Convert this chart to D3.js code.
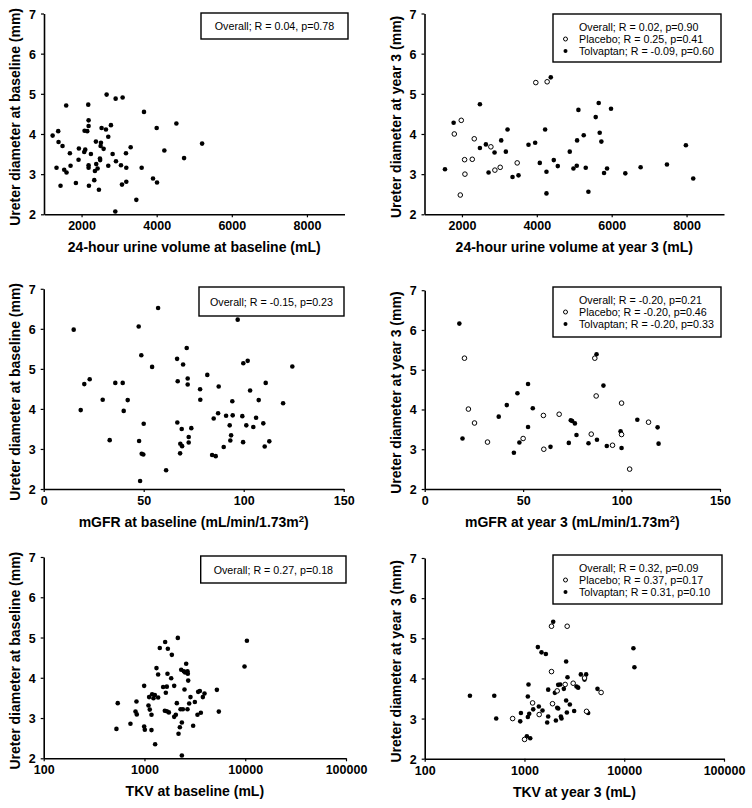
<!DOCTYPE html>
<html>
<head>
<meta charset="utf-8">
<script src="https://d3js.org/d3.v7.min.js"></script>
<style>
  html, body { margin: 0; padding: 0; background: #fff; }
  svg { display: block; }
  text { font-family: "Liberation Sans", Arial, sans-serif; fill: #000; }
</style>
</head>
<body>
<svg id="chart" width="752" height="808"></svg>
<script>
// ---------------- DATA ----------------
// Panel 1: 24-hour urine volume at baseline (mL) vs ureter diameter at baseline (mm)
const urineBaseline = [
  [1230,3.96],[1378,4.07],[1387,3.80],[1493,3.70],[1333,3.16],[1440,2.71],[1538,3.11],[1591,4.71],
  [1600,3.04],[1689,3.52],[1707,3.21],[1849,2.78],[1929,3.64],[1920,3.36],[2071,3.55],[2080,4.08],
  [2098,3.61],[2151,4.07],[2178,4.73],[2187,4.34],[2187,4.20],[2187,3.22],[2187,3.16],[2196,2.71],
  [2249,3.50],[2338,2.85],[2382,3.81],[2391,3.25],[2356,3.08],[2427,3.14],[2462,2.61],[2489,3.39],
  [2495,3.35],[2507,3.70],[2516,3.78],[2533,4.15],[2587,3.63],[2649,4.11],[2667,4.98],[2711,3.93],
  [2711,3.21],[2782,4.22],[2827,3.50],[2907,4.88],[2916,3.32],[2898,2.07],[3049,3.22],[3093,4.91],
  [3076,2.74],[3182,3.52],[3191,3.16],[3191,2.81],[3307,3.67],[3458,2.36],[3600,3.16],[3662,4.55],
  [3902,2.89],[4000,4.15],[4009,2.79],[4204,3.59],[4524,4.26],[4729,3.40],[5209,3.76]
];
// Panel 2: 24-hour urine volume at year 3
const urineY3Placebo = [
  [1982,4.34],[1796,4.00],[2329,3.88],[2071,3.36],[2276,3.37],[2080,3.00],[1956,2.48],[2773,3.68],
  [2880,3.10],[3022,3.17],[3476,3.28],[3973,5.28],[4276,5.30]
];
const urineY3Tolvaptan = [
  [1547,3.12],[1778,4.28],[2480,4.74],[2480,3.65],[2640,3.74],[2711,3.04],[2871,3.54],[3049,3.84],
  [3173,3.56],[3218,4.11],[3351,2.93],[3511,2.97],[3778,3.73],[3956,3.78],[4080,3.28],[4222,4.11],
  [4258,3.06],[4258,2.52],[4373,5.41],[4453,3.35],[4560,3.20],[4880,3.56],[4978,3.14],[5067,3.21],
  [5076,3.84],[5111,4.60],[5253,3.97],[5307,3.16],[5378,2.56],[5573,4.42],[5653,4.77],[5680,4.03],
  [5724,3.81],[5796,3.03],[5876,3.14],[5982,4.63],[6364,3.02],[6773,3.17],[7476,3.24],[7982,3.72],
  [8178,2.89]
];
// Panel 3: mGFR at baseline
const gfrBaseline = [
  [15,5.98],[18.5,3.97],[20.3,4.62],[23,4.74],[29.5,4.23],[33,3.22],[35.8,4.65],[39.5,4.65],
  [40,3.95],[42,4.22],[47.5,6.06],[47.7,3.20],[48.2,2.20],[48.8,5.34],[49,2.88],[49.8,2.86],
  [50,3.63],[54.2,5.05],[57.2,6.52],[61.2,2.47],[66.7,5.25],[66.8,3.66],[67,4.69],[68.2,2.89],
  [68.3,3.13],[69,3.50],[69.2,3.07],[69.7,5.11],[71.5,5.52],[72,4.76],[72,4.61],[72.5,3.30],
  [72.5,3.16],[73.8,3.52],[78.2,4.49],[78.3,4.23],[81.8,4.85],[84.2,2.85],[85,3.76],[86,2.82],
  [87.2,3.89],[87.5,4.56],[90,3.05],[91.2,3.83],[93,3.59],[93.3,3.21],[93.7,3.34],[94.3,4.19],
  [94.5,3.84],[97,6.23],[99.3,3.82],[99.7,3.17],[99.8,5.14],[101.3,3.59],[102,5.20],[103.2,4.46],
  [104.8,3.55],[106.2,3.78],[107.5,4.22],[109.8,3.64],[110.5,3.06],[111,4.65],[112.8,3.19],
  [119.7,4.14],[124.3,5.06]
];
// Panel 4: mGFR at year 3
const gfrY3Placebo = [
  [20.2,5.29],[22.2,4.01],[25.3,3.66],[31.9,3.18],[50,3.27],[60.3,3.85],[60.5,3.00],[68.3,3.88],
  [84.6,3.38],[86.4,5.29],[87.1,4.34],[95.4,3.10],[100,4.16],[100,3.37],[104.1,2.50],[113.7,3.68]
];
const gfrY3Tolvaptan = [
  [17.6,6.16],[19.2,3.27],[37.6,3.82],[41.7,4.11],[45.3,2.91],[47.1,4.41],[48.1,3.17],[52.5,4.64],
  [52.5,3.56],[54.9,4.03],[63.9,3.06],[73.2,3.16],[74.2,3.73],[74.9,3.71],[76.3,3.65],[77.1,3.36],
  [83.2,3.15],[87.3,5.39],[87.5,3.24],[90.8,4.60],[92.5,3.08],[99.5,3.45],[100,3.03],[108,3.74],
  [118.3,3.55],[118.8,3.14]
];
// Panel 5: TKV at baseline
const tkvBaseline = [
  [527,2.73],[543,3.37],[726,2.86],[833,3.41],[815,3.16],[839,3.09],[993,3.80],[993,2.79],
  [1008,2.71],[1096,3.31],[1112,3.52],[1129,3.21],[1174,3.08],[1174,2.70],[1191,3.59],[1228,3.49],
  [1267,3.57],[1316,4.24],[1367,4.08],[1367,3.51],[1276,2.35],[1419,4.74],[1532,3.77],[1592,3.18],
  [1604,4.89],[1629,3.63],[1667,3.17],[1667,3.78],[1692,4.10],[1706,4.72],[1746,3.14],[1842,3.99],
  [1869,4.57],[1972,3.80],[1972,3.03],[2048,3.08],[2095,3.37],[2143,4.99],[2177,2.61],[2245,2.77],
  [2281,3.22],[2315,4.20],[2350,2.89],[2350,2.07],[2404,3.22],[2460,4.16],[2496,3.71],[2535,4.13],
  [2594,4.35],[2673,4.16],[2673,3.22],[2693,4.10],[2716,3.93],[2778,3.36],[2863,3.52],[3042,2.81],
  [3162,3.40],[3358,3.08],[3411,3.65],[3545,3.67],[3627,3.13],[3796,3.52],[3943,3.61],[5231,3.70],
  [5470,3.16],[9840,4.28],[10390,4.92]
];
// Panel 6: TKV at year 3
const tkvY3Placebo = [
  [761,3.00],[1002,2.48],[1206,3.39],[1405,3.10],[1866,5.30],[1866,4.17],[1910,3.37],[2129,3.69],
  [2558,3.85],[2680,5.30],[3078,3.88],[3999,4.01],[4188,3.18],[5865,3.65]
];
const tkvY3Tolvaptan = [
  [284,3.57],[498,3.57],[521,3.00],[907,2.93],[921,3.14],[1057,2.56],[1081,3.04],[1081,3.55],
  [1098,3.85],[1116,3.12],[1142,2.51],[1224,3.23],[1362,4.78],[1393,3.30],[1482,4.65],[1516,3.20],
  [1639,4.61],[1690,2.90],[1729,3.72],[1729,3.05],[1941,5.41],[2017,3.64],[2064,2.95],[2129,3.27],
  [2178,3.25],[2178,3.84],[2281,3.85],[2317,3.05],[2350,3.00],[2481,3.74],[2617,4.42],[2617,3.45],
  [2660,3.15],[2700,4.03],[2850,3.35],[3148,3.19],[3325,3.80],[3454,3.77],[3672,4.10],[3999,3.97],
  [4153,4.10],[4349,3.14],[5393,3.74],[12360,4.75],[12650,4.28]
];

// Tick values and labels
const yTicks = [2, 3, 4, 5, 6, 7];
const urineTicks = [2000, 4000, 6000, 8000];
const gfrTicks = [0, 50, 100, 150];
const tkvTicks = [100, 1000, 10000, 100000];

// Statistics legends
const statsUrineBase = ["Overall; R = 0.04, p=0.78"];
const statsUrineY3 = ["Overall; R = 0.02, p=0.90", "Placebo; R = 0.25, p=0.41", "Tolvaptan; R = -0.09, p=0.60"];
const statsGfrBase = ["Overall; R = -0.15, p=0.23"];
const statsGfrY3 = ["Overall; R = -0.20, p=0.21", "Placebo; R = -0.20, p=0.46", "Tolvaptan; R = -0.20, p=0.33"];
const statsTkvBase = ["Overall; R = 0.27, p=0.18"];
const statsTkvY3 = ["Overall; R = 0.32, p=0.09", "Placebo; R = 0.37, p=0.17", "Tolvaptan; R = 0.31, p=0.10"];

// ---------------- LAYOUT ----------------
const svg = d3.select("#chart");

const panels = [
  { xType: "lin", domain: [1000, 9000], ticks: urineTicks, xr: [44, 344.5], yr: [214.3, 13.5],
    filled: urineBaseline, open: null, stats: statsUrineBase,
    xTitle: ["24-hour urine volume at baseline (mL)"], yTitle: "Ureter diameter at baseline (mm)",
    box: [201, 13, 348, 39] },
  { xType: "lin", domain: [1000, 9000], ticks: urineTicks, xr: [424.5, 724], yr: [214.3, 13.5],
    filled: urineY3Tolvaptan, open: urineY3Placebo, stats: statsUrineY3,
    xTitle: ["24-hour urine volume at year 3 (mL)"], yTitle: "Ureter diameter at year 3 (mm)",
    box: [553, 14, 721, 62] },
  { xType: "lin", domain: [0, 150], ticks: gfrTicks, xr: [43.7, 343.7], yr: [489, 288.8],
    filled: gfrBaseline, open: null, stats: statsGfrBase,
    xTitle: ["mGFR at baseline (mL/min/1.73m", "2", ")"], yTitle: "Ureter diameter at baseline (mm)",
    box: [199, 287, 344, 316] },
  { xType: "lin", domain: [0, 150], ticks: gfrTicks, xr: [424.7, 720], yr: [489, 290.2],
    filled: gfrY3Tolvaptan, open: gfrY3Placebo, stats: statsGfrY3,
    xTitle: ["mGFR at year 3 (mL/min/1.73m", "2", ")"], yTitle: "Ureter diameter at year 3 (mm)",
    box: [553, 287, 721, 337] },
  { xType: "log", domain: [100, 100000], ticks: tkvTicks, xr: [43.7, 346], yr: [758.3, 557],
    filled: tkvBaseline, open: null, stats: statsTkvBase,
    xTitle: ["TKV at baseline (mL)"], yTitle: "Ureter diameter at baseline (mm)",
    box: [200.7, 556, 346, 583] },
  { xType: "log", domain: [100, 100000], ticks: tkvTicks, xr: [424.7, 724], yr: [758.7, 558],
    filled: tkvY3Tolvaptan, open: tkvY3Placebo, stats: statsTkvY3,
    xTitle: ["TKV at year 3 (mL)"], yTitle: "Ureter diameter at year 3 (mm)",
    box: [553, 555, 722, 604] }
];

const DOT_R = 2.3;
const OPEN_R = 2.3;

panels.forEach(p => {
  const x = (p.xType === "log" ? d3.scaleLog() : d3.scaleLinear()).domain(p.domain).range(p.xr);
  const y = d3.scaleLinear().domain([2, 7]).range(p.yr);
  const g = svg.append("g");

  // y axis
  const yAx = g.append("g")
    .attr("transform", `translate(${p.xr[0]},0)`)
    .call(d3.axisLeft(y).tickValues(yTicks).tickSize(3).tickSizeOuter(0).tickPadding(5).tickFormat(d3.format("d")));
  // x axis
  const xAx = g.append("g")
    .attr("transform", `translate(0,${p.yr[0]})`)
    .call(d3.axisBottom(x).tickValues(p.ticks).tickSize(3).tickSizeOuter(0).tickPadding(4).tickFormat(d3.format("d")));

  [yAx, xAx].forEach(a => {
    a.select(".domain").attr("stroke", "#000").attr("stroke-width", 1.6);
    a.selectAll(".tick line").attr("stroke", "#000").attr("stroke-width", 1.2);
    a.selectAll(".tick text")
      .attr("font-family", "Liberation Sans, Arial, sans-serif")
      .attr("font-size", 12.5).attr("font-weight", "bold").attr("fill", "#000");
  });
  yAx.selectAll(".tick text").attr("dy", "0.36em");
  xAx.selectAll(".tick text").attr("dy", "0.72em");

  // x title
  const xt = g.append("text")
    .attr("x", (p.xr[0] + p.xr[1]) / 2).attr("y", p.yr[0] + 38)
    .attr("text-anchor", "middle").attr("font-size", 14).attr("font-weight", "bold");
  xt.append("tspan").text(p.xTitle[0]);
  if (p.xTitle.length > 1) {
    xt.append("tspan").attr("dy", -5).attr("font-size", 9.5).text(p.xTitle[1]);
    xt.append("tspan").attr("dy", 5).text(p.xTitle[2]);
  }

  // y title
  const yc = (p.yr[0] + p.yr[1]) / 2 + 3;
  g.append("text")
    .attr("transform", `translate(${p.xr[0] - 24},${yc}) rotate(-90)`)
    .attr("text-anchor", "middle").attr("font-size", 14).attr("font-weight", "bold")
    .text(p.yTitle);

  // points
  g.append("g").selectAll("circle.f").data(p.filled).join("circle")
    .attr("cx", d => x(d[0])).attr("cy", d => y(d[1])).attr("r", DOT_R).attr("fill", "#000");
  if (p.open) {
    g.append("g").selectAll("circle.o").data(p.open).join("circle")
      .attr("cx", d => x(d[0])).attr("cy", d => y(d[1])).attr("r", OPEN_R)
      .attr("fill", "#fff").attr("stroke", "#000").attr("stroke-width", 1);
  }

  // legend box
  const [bx0, by0, bx1, by1] = p.box;
  g.append("rect").attr("x", bx0).attr("y", by0).attr("width", bx1 - bx0).attr("height", by1 - by0)
    .attr("fill", "#fff").attr("stroke", "#000").attr("stroke-width", 1.4);
  if (p.stats.length === 1) {
    g.append("text").attr("x", (bx0 + bx1) / 2).attr("y", (by0 + by1) / 2 + 4)
      .attr("text-anchor", "middle").attr("font-size", 10.7).text(p.stats[0]);
  } else {
    const tx = bx0 + 26, mx = bx0 + 12.5;
    p.stats.forEach((s, i) => {
      const by = by0 + 16.5 + i * 12;
      g.append("text").attr("x", tx).attr("y", by).attr("font-size", 10.7).text(s);
      if (i === 1) {
        g.append("circle").attr("cx", mx).attr("cy", by - 3.5).attr("r", 2)
          .attr("fill", "#fff").attr("stroke", "#000").attr("stroke-width", 1);
      } else if (i === 2) {
        g.append("circle").attr("cx", mx).attr("cy", by - 3.5).attr("r", 2).attr("fill", "#000");
      }
    });
  }
});
</script>
</body>
</html>
